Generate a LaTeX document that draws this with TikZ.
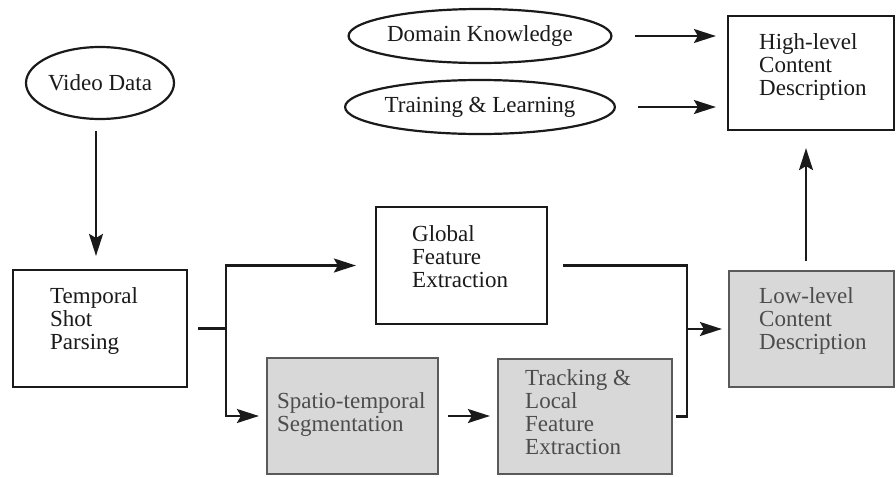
\documentclass[tikz,border=0pt]{standalone}
\usepackage{fontspec}
\setmainfont{Liberation Serif}
\usetikzlibrary{arrows.meta,shapes.geometric}

\definecolor{ink}{HTML}{1A1A1A}
\definecolor{shade}{HTML}{D8D8D8}
\definecolor{shadeline}{HTML}{5A5A5A}
\definecolor{shadetext}{HTML}{4C4C4C}

\begin{document}
\begin{tikzpicture}[x=1pt,y=-1pt,
  every node/.style={font=\fontsize{23}{23}\selectfont},
  plainbox/.style={draw=ink,line width=2.2pt,fill=white,inner sep=0pt},
  greybox/.style={draw=shadeline,line width=2.2pt,fill=shade,inner sep=0pt},
  oval/.style={ellipse,draw=ink,line width=2.2pt,fill=white,inner sep=0pt,text=ink},
  label/.style={anchor=north west,align=left,inner sep=0pt,text=ink},
  greylabel/.style={label,text=shadetext},
  conn/.style={draw=ink,line width=2.2pt},
  arr/.style={conn,-{Stealth[length=22pt,width=14pt,inset=4pt]}}]

  % canvas
  \useasboundingbox (0,0) rectangle (896,477);
  \fill[white] (0,0) rectangle (896,477);

  % inputs
  \node[oval,minimum width=148pt,minimum height=72pt] (video) at (100,83) {Video Data};
  \node[oval,minimum width=236pt,minimum height=54pt] (domain) at (480,36) {Domain Knowledge};
  \node[oval,minimum width=236pt,minimum height=54pt] (training) at (480,107) {Training \& Learning};

  % processing boxes
  \node[plainbox,minimum width=174pt,minimum height=117pt] (temporal) at (100,328.5) {};
  \node[plainbox,minimum width=171pt,minimum height=117pt] (global) at (461.5,265.5) {};
  \node[greybox,minimum width=171pt,minimum height=116pt] (spatio) at (352.5,416) {};
  \node[greybox,minimum width=174pt,minimum height=115pt] (tracking) at (585,416.5) {};
  \node[greybox,minimum width=165pt,minimum height=116pt] (low) at (811.5,329) {};
  \node[plainbox,minimum width=166pt,minimum height=114pt] (high) at (811,73) {};

  % box captions
  \node[label] (temporaltxt) at (50,286.9) {\strut Temporal\\Shot\\Parsing};
  \node[label] (globaltxt) at (412,224.9) {\strut Global\\Feature\\Extraction};
  \node[greylabel] (spatiotxt) at (277,391.9) {\strut Spatio-temporal\\Segmentation};
  \node[greylabel] (trackingtxt) at (525,368.9) {\strut Tracking \&\\Local\\Feature\\Extraction};
  \node[greylabel] (lowtxt) at (759,286.9) {\strut Low-level\\Content\\Description};
  \node[label] (hightxt) at (759,32.9) {\strut High-level\\Content\\Description};

  % junction points
  \coordinate (split) at (226,328.5);
  \coordinate (merge) at (687,329);
  \coordinate (upx) at (806,0);
  \coordinate (downx) at (96,0);

  % connectors
  \draw[arr,shorten <=11pt,shorten >=13pt] (video.south -| downx) -- (temporal.north -| downx);
  \draw[conn,shorten <=10pt] (temporal.east) -- (split);
  \draw[arr,shorten >=19pt] (split) |- (global.west);
  \draw[arr,shorten >=7pt] (split) |- (spatio.west);
  \draw[arr,shorten <=9pt,shorten >=7pt] (spatio.east) -- (spatio.east -| tracking.west);
  \draw[conn,shorten <=15pt,shorten >=3pt] (global.east) -- (global.east -| merge)
        -- (tracking.east -| merge) -- (tracking.east);
  \draw[arr,shorten >=6pt] (merge) -- (low.west);
  \draw[arr,shorten <=9pt,shorten >=17pt] (low.north -| upx) -- (high.south -| upx);
  \draw[arr,shorten <=22pt,shorten >=11pt] (domain.east) -- (domain.east -| high.west);
  \draw[arr,shorten <=22pt,shorten >=11pt] (training.east) -- (training.east -| high.west);
\end{tikzpicture}
\end{document}
